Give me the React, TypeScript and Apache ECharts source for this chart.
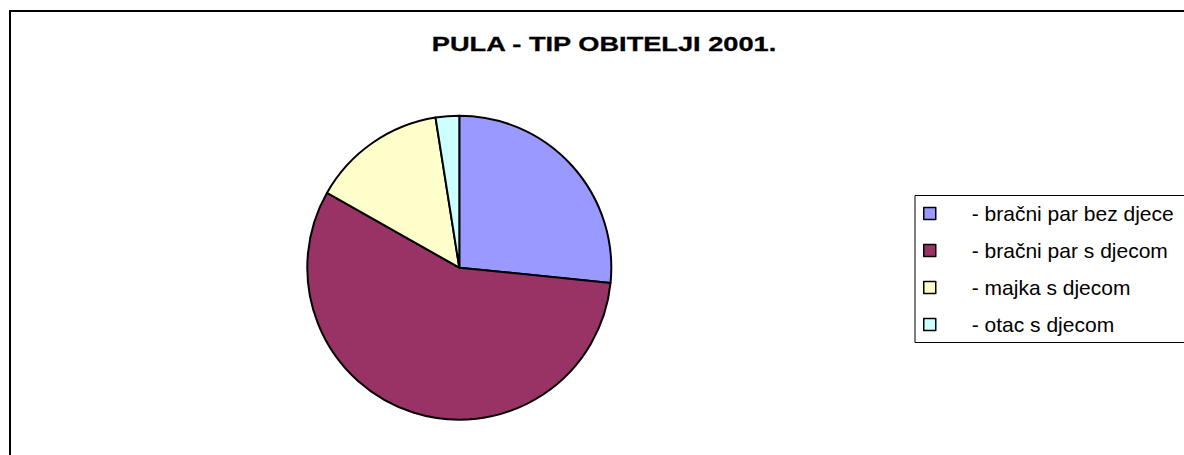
import React, { useEffect, useRef } from "react";
import * as echarts from "echarts";

const titleText = "PULA - TIP OBITELJI 2001.";
const categories = [
  "- bračni par bez djece",
  "- bračni par s djecom",
  "- majka s djecom",
  "- otac s djecom",
];
const values = [26.6, 56.6, 14.3, 2.5];
const colors = ["#9999FF", "#993366", "#FFFFCC", "#CCFFFF"];

export default function App() {
  const ref = useRef<HTMLDivElement>(null);
  useEffect(() => {
    const chart = echarts.init(ref.current!, null, { renderer: "svg" });
    chart.setOption({
      animation: false,
      backgroundColor: "#ffffff",
      color: colors,
      graphic: [
        {
          type: "rect",
          shape: { x: 10, y: 11, width: 1400, height: 700 },
          style: { fill: "none", stroke: "#000", lineWidth: 2 },
          silent: true,
          z: 0,
        },
        {
          type: "text",
          x: 604,
          y: 44,
          scaleX: 1.36,
          style: {
            text: titleText,
            x: 0,
            y: 0,
            textAlign: "center",
            textVerticalAlign: "middle",
            font: "bold 20px 'Liberation Sans', Arial, sans-serif",
            fill: "#000",
            stroke: "#000",
            lineWidth: 0.3,
          },
          z: 10,
        },
        {
          type: "rect",
          shape: { x: 915, y: 195.5, width: 400, height: 147 },
          style: { fill: "#fff", stroke: "#000", lineWidth: 1 },
          silent: true,
          z: 1,
        },
      ],
      legend: {
        orient: "vertical",
        left: 915,
        top: 195,
        padding: [8, 8, 8, 8],
        itemGap: 16,
        itemWidth: 12,
        itemHeight: 12,
        icon: "rect",
        selectedMode: false,
        itemStyle: { borderColor: "#000", borderWidth: 1.5 },
        textStyle: {
          fontFamily: "'Liberation Sans', Arial, sans-serif",
          fontSize: 21,
          lineHeight: 21,
          color: "#000",
          padding: [0, 0, 0, 31],
        },
        data: categories,
        z: 5,
      },
      series: [
        {
          type: "pie",
          center: [459.3, 267.7],
          radius: 152,
          startAngle: 90,
          clockwise: true,
          label: { show: false },
          labelLine: { show: false },
          emphasis: { disabled: true },
          itemStyle: { borderColor: "#000", borderWidth: 2 },
          data: categories.map((name, i) => ({ name, value: values[i] })),
        },
      ],
    });
    return () => chart.dispose();
  }, []);
  return (
    <div
      ref={ref}
      style={{ position: "fixed", left: 0, top: 0, width: 1184, height: 455 }}
    />
  );
}
